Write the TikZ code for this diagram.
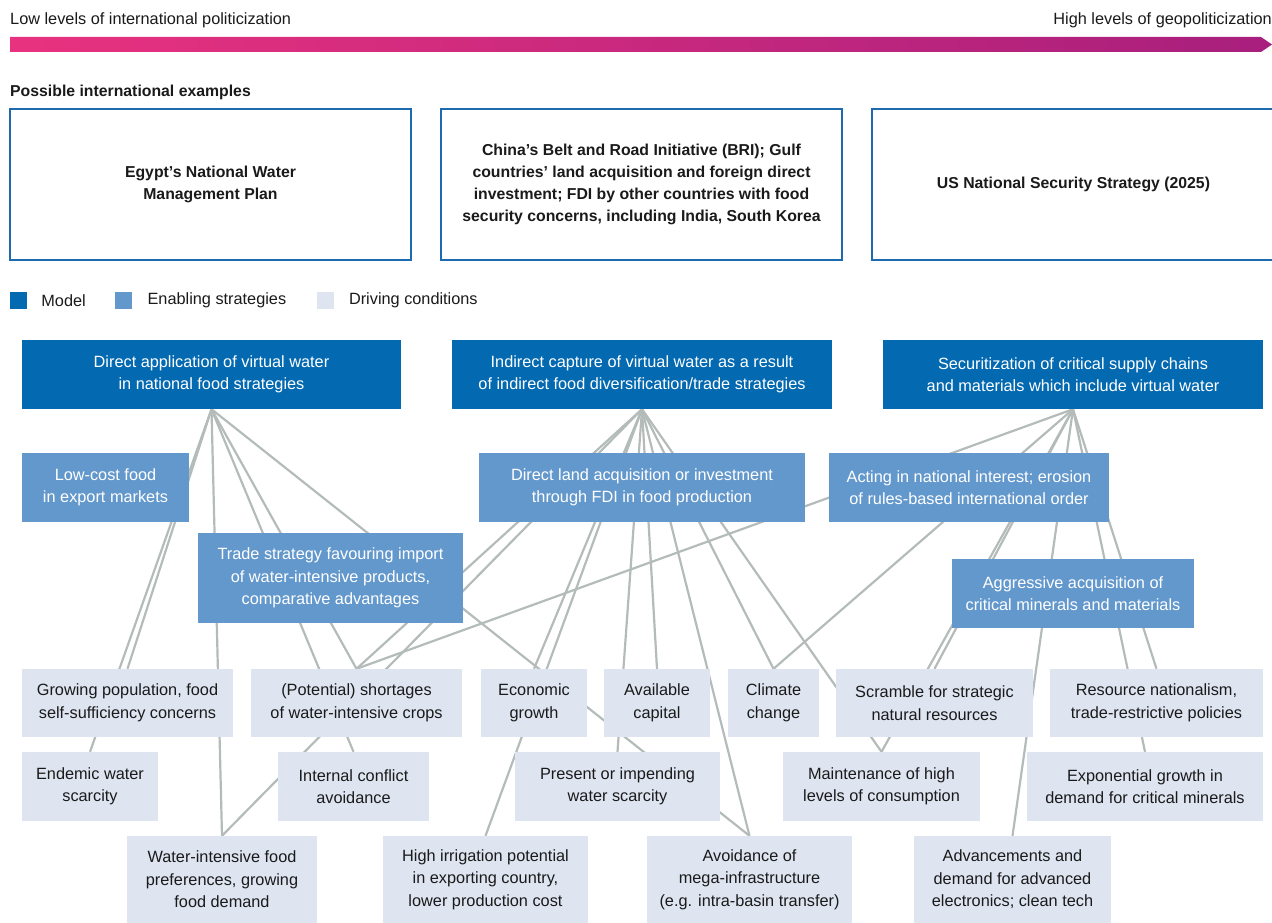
\documentclass[tikz,border=0pt]{standalone}
\usepackage{fontspec}
\setmainfont{Liberation Sans}
\usetikzlibrary{positioning,backgrounds}

\definecolor{modelblue}{HTML}{0369B1}
\definecolor{enabblue}{HTML}{6398CC}
\definecolor{drivgrey}{HTML}{DEE5F1}
\definecolor{linkgrey}{HTML}{B4BCBA}
\definecolor{barpink}{HTML}{E8327F}
\definecolor{barpurple}{HTML}{A81F7D}
\definecolor{frameblue}{HTML}{1D6AAF}
\definecolor{inktext}{HTML}{1A1A1A}

\tikzset{
  box/.style = {rectangle, inner sep=0pt, align=center, font=\fontsize{16.3}{22.5}\selectfont},
  model/.style = {box, fill=modelblue, text=white},
  enab/.style = {box, fill=enabblue, text=white},
  driv/.style = {box, fill=drivgrey, text=inktext},
  example/.style = {box, draw=frameblue, line width=1.2pt, fill=white, text=inktext,
                    font=\fontsize{15.8}{22}\selectfont\bfseries},
  key/.style = {rectangle, minimum size=17pt, inner sep=0pt},
  keylabel/.style = {inner sep=0pt, text=inktext, font=\fontsize{16.3}{20}\selectfont},
  link/.style = {draw=linkgrey, line width=2.2pt},
}

\begin{document}
\begin{tikzpicture}[x=1pt, y=-1pt]
        \useasboundingbox (0,0) rectangle (1272,923); %
        % scale at the top
        \node[keylabel, anchor=west] (lowlab) at (10,20) {Low levels of international politicization}; %
        \node[keylabel, anchor=east] (highlab) at (1272,20) {High levels of geopoliticization}; %
        \shade[left color=barpink, right color=barpurple] (10,37) -- (1261,37) -- (1272,44.5) -- (1261,52) -- (10,52) -- cycle; %
        %
        \node[keylabel, anchor=west, font=\fontsize{15.8}{20}\selectfont\bfseries] (extitle) at (10,92) {Possible international examples}; %
        \node[example, minimum width=401pt, minimum height=151pt] (ex1) at (210.5,184.5) {Egypt’s National Water\\Management Plan}; %
        \node[example, minimum width=401pt, minimum height=151pt] (ex2) at (641.5,184.5) {China’s Belt and Road Initiative (BRI); Gulf\\countries’ land acquisition and foreign direct\\investment; FDI by other countries with food\\security concerns, including India, South Korea}; %
        \node[example, minimum width=403pt, minimum height=151pt] (ex3) at (1073.5,184.5) {US National Security Strategy (2025)}; %
        %
        % legend
        \node[key, fill=modelblue] (keymodel) at (18.5,300.5) {}; %
        \node[keylabel, right = 14pt of keymodel] (labmodel) {Model}; %
        \node[key, fill=enabblue, right = 29pt of labmodel] (keyenab) {}; %
        \node[keylabel, right = 15pt of keyenab] (labenab) {Enabling strategies}; %
        \node[key, fill=drivgrey, right = 30pt of labenab] (keydriv) {}; %
        \node[keylabel, right = 15pt of keydriv] (labdriv) {Driving conditions}; %
        %
        % models
        \node[model, minimum width=379pt, minimum height=69pt] (m1) at (211.5,374.5) {Direct application of virtual water\\in national food strategies}; %
        \node[model, minimum width=380pt, minimum height=69pt] (m2) at (642,374.5) {Indirect capture of virtual water as a result\\of indirect food diversification/trade strategies}; %
        \node[model, minimum width=380pt, minimum height=69pt] (m3) at (1073,374.5) {Securitization of critical supply chains\\and materials which include virtual water}; %
        %
        % enabling strategies
        \node[enab, minimum width=167pt, minimum height=69pt] (e1) at (105.5,487.5) {Low-cost food\\in export markets}; %
        \node[enab, minimum width=265pt, minimum height=90pt] (e2) at (330.5,578) {Trade strategy favouring import\\of water-intensive products,\\comparative advantages}; %
        \node[enab, minimum width=326pt, minimum height=69pt] (e3) at (642,487.5) {Direct land acquisition or investment\\through FDI in food production}; %
        \node[enab, minimum width=280pt, minimum height=69pt] (e4) at (969,487.5) {Acting in national interest; erosion\\of rules-based international order}; %
        \node[enab, minimum width=242pt, minimum height=69pt] (e5) at (1073,593.5) {Aggressive acquisition of\\critical minerals and materials}; %
        %
        % driving conditions
        \node[driv, minimum width=211pt, minimum height=68pt] (d1) at (127.5,703) {Growing population, food\\self-sufficiency concerns}; %
        \node[driv, minimum width=211pt, minimum height=68pt] (d2) at (356.5,703) {(Potential) shortages\\of water-intensive crops}; %
        \node[driv, minimum width=106pt, minimum height=68pt] (d3) at (534,703) {Economic\\growth}; %
        \node[driv, minimum width=106pt, minimum height=68pt] (d4) at (657,703) {Available\\capital}; %
        \node[driv, minimum width=91pt, minimum height=68pt] (d5) at (773.5,703) {Climate\\change}; %
        \node[driv, minimum width=197pt, minimum height=68pt] (d6) at (934.5,703) {Scramble for strategic\\natural resources}; %
        \node[driv, minimum width=213pt, minimum height=68pt] (d7) at (1156.5,703) {Resource nationalism,\\trade-restrictive policies}; %
        \node[driv, minimum width=136pt, minimum height=69pt] (d8) at (90,786.5) {Endemic water\\scarcity}; %
        \node[driv, minimum width=151pt, minimum height=69pt] (d9) at (353.5,786.5) {Internal conflict\\avoidance}; %
        \node[driv, minimum width=205pt, minimum height=69pt] (d10) at (617.5,786.5) {Present or impending\\water scarcity}; %
        \node[driv, minimum width=197pt, minimum height=69pt] (d11) at (881.5,786.5) {Maintenance of high\\levels of consumption}; %
        \node[driv, minimum width=236pt, minimum height=69pt] (d12) at (1145,786.5) {Exponential growth in\\demand for critical minerals}; %
        \node[driv, minimum width=190pt, minimum height=87pt] (d13) at (222,879.5) {Water-intensive food\\preferences, growing\\food demand}; %
        \node[driv, minimum width=205pt, minimum height=87pt] (d14) at (485.5,879.5) {High irrigation potential\\in exporting country,\\lower production cost}; %
        \node[driv, minimum width=205pt, minimum height=87pt] (d15) at (749.5,879.5) {Avoidance of\\mega-infrastructure\\(e.g. intra-basin transfer)}; %
        \node[driv, minimum width=197pt, minimum height=87pt] (d16) at (1012.5,879.5) {Advancements and\\demand for advanced\\electronics; clean tech}; %
        %
        \begin{scope}[on background layer]
        \draw[link] (m1.south) -- (d8.north) ; %
        \draw[link] (m1.south) -- (d1.north) ; %
        \draw[link] (m1.south) -- (d13.north) ; %
        \draw[link] (m1.south) -- (d9.north) ; %
        \draw[link] (m1.south) -- (d2.north) ; %
        \draw[link] (m1.south) -- (d15.north) ; %
        %
        \draw[link] (m2.south) -- (d2.north) ; %
        \draw[link] (m2.south) -- (d13.north) ; %
        \draw[link] (m2.south) -- (d3.north) ; %
        \draw[link] (m2.south) -- (d14.north) ; %
        \draw[link] (m2.south) -- (d10.north) ; %
        \draw[link] (m2.south) -- (d4.north) ; %
        \draw[link] (m2.south) -- (d15.north) ; %
        \draw[link] (m2.south) -- (d5.north) ; %
        \draw[link] (m2.south) -- (d11.north) ; %
        %
        \draw[link] (m3.south) -- (d2.north) ; %
        \draw[link] (m3.south) -- (d5.north) ; %
        \draw[link] (m3.south) -- (d11.north) ; %
        \draw[link] (m3.south) -- (d6.north) ; %
        \draw[link] (m3.south) -- (d16.north) ; %
        \draw[link] (m3.south) -- (d12.north) ; %
        \draw[link] (m3.south) -- (d7.north) ; %
        \end{scope}
\end{tikzpicture}
\end{document}
